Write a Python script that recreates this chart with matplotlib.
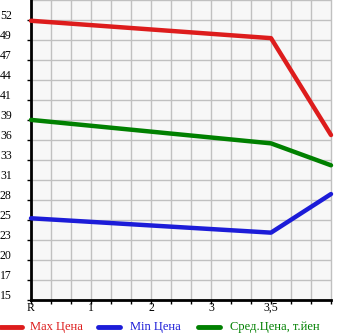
import matplotlib
matplotlib.use("Agg")
import matplotlib.pyplot as plt
import numpy as np
from matplotlib.lines import Line2D

# data
x_labels = ["R", "1", "2", "3", "3,5"]
x_label_pos = [0, 3, 6, 9, 12]
x_points = [0, 12, 15]
max_price = [51.9, 49.6, 36.8]
min_price = [25.8, 23.9, 29.0]
avg_price = [38.8, 35.7, 32.8]
y_labels = ["15", "17", "20", "23", "25", "28", "31", "33", "36", "39", "41", "44", "47", "49", "52"]

W, H = 345, 335
fig = plt.figure(figsize=(W/100, H/100), dpi=100)
ax = fig.add_axes([31/W, 1 - 300/H, 300/W, 300/H])
ax.set_facecolor("#f7f7f7")

step = 37/14
ymin = 15
ymax = 15 + 15*step
ax.set_xlim(0, 15)
ax.set_ylim(ymin, ymax)

for k in range(1, 16):
    ax.axvline(k, color="#c0c0c0", lw=1, zorder=1, clip_on=False)
for k in range(1, 16):
    ax.axhline(ymin + k*step, color="#c0c0c0", lw=1, zorder=1)

red = "#dd1c1c"
blue = "#1c1cd8"
green = "#008000"
ax.plot(x_points, max_price, color=red, lw=3.2, zorder=3, clip_on=False, solid_capstyle="round")
ax.plot(x_points, min_price, color=blue, lw=3.2, zorder=3, clip_on=False, solid_capstyle="round")
ax.plot(x_points, avg_price, color=green, lw=3.2, zorder=3, clip_on=False, solid_capstyle="round")

for s in ["top", "right"]:
    ax.spines[s].set_visible(False)
ax.spines["left"].set_linewidth(2)
ax.spines["bottom"].set_linewidth(2)

ax.set_xticks(range(0, 16))
ax.set_xticklabels([""]*16)
ax.tick_params(axis="x", length=3, width=1, direction="out")
ax.set_yticks([ymin + k*step for k in range(15)])
ax.set_yticklabels([""]*15)
ax.tick_params(axis="y", length=3, width=1, direction="out")

font = dict(family="Liberation Serif", size=8.5)
for lab, pos in zip(x_labels, x_label_pos):
    px = 31 + pos*20
    fig.text(px/W, 1 - 308/H, lab, ha="center", va="center", **font)
for k, lab in enumerate(y_labels):
    py = 300 - k*20 - 4
    fig.text(0/W, 1 - py/H, lab, ha="left", va="center", **font)

legend = [(0, 22, red, "Max Цена", 30), (98, 120, blue, "Min Цена", 130), (198, 220, green, "Сред.Цена, т.йен", 230)]
ly = 1 - 327/H
for x0, x1, c, t, tx in legend:
    fig.add_artist(Line2D([x0/W, x1/W], [ly, ly], color=c, lw=3.5, solid_capstyle="round"))
    fig.text(tx/W, ly, t, color=c, ha="left", va="center", family="Liberation Serif", size=9)

fig.savefig("out.png", dpi=100)
